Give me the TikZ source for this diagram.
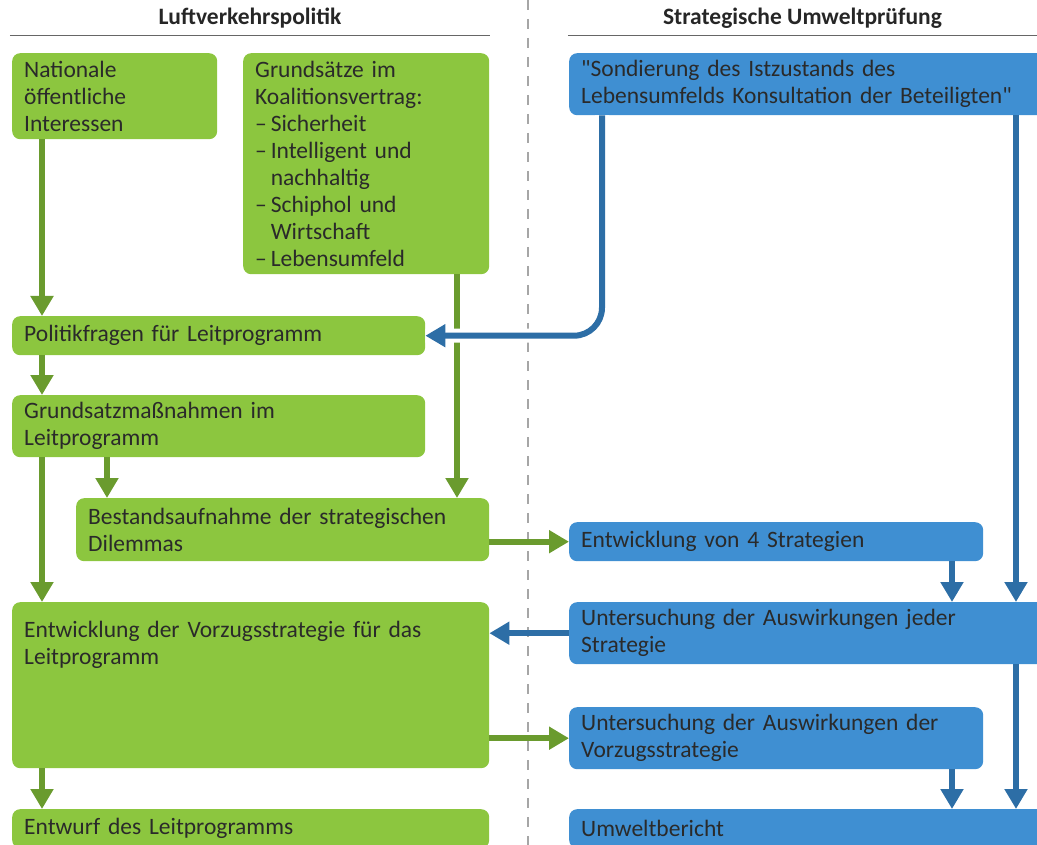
\documentclass[tikz,border=0pt]{standalone}
\usepackage{fontspec}
\setmainfont{Carlito}[Ligatures=TeXOff]
\usetikzlibrary{arrows.meta}

\definecolor{lvgreen}{HTML}{8CC63F}
\definecolor{lvgreendark}{HTML}{6A9B2E}
\definecolor{supblue}{HTML}{3F8FD2}
\definecolor{supbluedark}{HTML}{2D6EA6}
\definecolor{boxtext}{HTML}{2A2A2A}

\begin{document}
\begin{tikzpicture}[
        x=1pt, y=-1pt,
        >={Triangle[length=20pt 0 0, width=22pt 0 0]},
        font=\fontsize{23.5}{27}\selectfont,
        box/.style={rounded corners=8pt, anchor=north west, align=left, inner xsep=12pt, inner ysep=5pt, text=boxtext},
        gbox/.style={box, fill=lvgreen},
        bbox/.style={box, fill=supblue},
        size/.code 2 args={\pgfmathsetmacro\boxtw{#1-24}\tikzset{minimum width=#1pt, minimum height=#2pt, text width=\boxtw pt}},
        garr/.style={->, draw=lvgreendark, line width=6pt},
        barr/.style={->, draw=supbluedark, line width=6pt},
        head/.style={font=\fontsize{23.5}{26}\selectfont\bfseries, text=black!85, minimum height=34pt},
        rule/.style={draw=black!60, line width=1.2pt},
        divider/.style={draw=black!35, line width=1.2pt, dash pattern=on 10pt off 9pt}
      ]
      \useasboundingbox (0,0) rectangle (1037,845);
      \clip (0,0) rectangle (1037,845);

      % --- Column heads ---
      \node[head, minimum width=480pt] (lhead) at (250,18) {Luftverkehrspolitik};
      \node[head, minimum width=469pt] (rhead) at (802.5,18) {Strategische Umweltprüfung};
      \draw[rule] (lhead.south west) -- (lhead.south east);
      \draw[rule] (rhead.south west) -- (rhead.south east);
      \draw[divider] (528,0) -- (528,845);

      % --- Nodes: Luftverkehrspolitik ---
      \node[gbox, size={205}{86}] (nat) at (12,53) {Nationale\\öffentliche\\Interessen};
      \node[gbox, size={246}{221}] (grund) at (243,53) {Grundsätze im
        \\Koalitionsvertrag:
        \\–\,Sicherheit
        \\–\,Intelligent und
        \\\phantom{–\,}nachhaltig
        \\–\,Schiphol und
        \\\phantom{–\,}Wirtschaft
        \\–\,Lebensumfeld};
      \node[gbox, size={413}{39}] (pol) at (12,316) {Politikfragen für Leitprogramm};
      \node[gbox, size={413}{62}] (gmass) at (12,395) {Grundsatzmaßnahmen im\\Leitprogramm};
      \node[gbox, size={413}{63}] (bestand) at (76,498) {Bestandsaufnahme der strategischen\\Dilemmas};
      \node[gbox, size={477}{166}, text depth=112pt] (vorz) at (12,602) {Entwicklung der Vorzugsstrategie für das\\Leitprogramm};
      \node[gbox, size={477}{39}] (entwurf) at (12,809) {Entwurf des Leitprogramms};

      % --- Nodes: Strategische Umweltpruefung ---
      \node[bbox, size={480}{62}] (sond) at (569,53) {"Sondierung des Istzustands des\\Lebensumfelds Konsultation der Beteiligten"};
      \node[bbox, size={414}{39}] (strat4) at (569,522) {Entwicklung von 4 Strategien};
      \node[bbox, size={480}{62}] (ujede) at (569,602) {Untersuchung der Auswirkungen jeder\\Strategie};
      \node[bbox, size={414}{62}] (uvorz) at (569,707) {Untersuchung der Auswirkungen der\\Vorzugsstrategie};
      \node[bbox, size={480}{39}] (umwelt) at (569,809) {Umweltbericht};

      % --- Arrows ---
      \draw[garr] ([xshift=30pt]nat.south west) -- ([xshift=30pt]pol.north west);
      \draw[garr] ([xshift=214pt]grund.south west) -- ([xshift=381pt]bestand.north west);
      \draw[garr] ([xshift=30pt]pol.south west) -- ([xshift=30pt]gmass.north west);
      \draw[garr] ([xshift=30pt]gmass.south west) -- ([xshift=30pt]vorz.north west);
      \draw[garr] ([xshift=95pt]gmass.south west) -- ([xshift=31pt]bestand.north west);
      \draw[garr] (bestand.east |- strat4.west) -- (strat4.west);
      \draw[garr] (uvorz.west -| vorz.east) -- (uvorz.west);
      \draw[garr] ([xshift=30pt]vorz.south west) -- ([xshift=30pt]entwurf.north west);

      \draw[white, line width=14pt, rounded corners=28pt] ([xshift=33pt]sond.south west) |- (pol.east);
      \draw[barr, rounded corners=28pt] ([xshift=33pt]sond.south west) |- (pol.east);
      \draw[barr] ([xshift=447pt]sond.south west) -- ([xshift=447pt]ujede.north west);
      \draw[barr] ([xshift=383pt]strat4.south west) -- ([xshift=383pt]ujede.north west);
      \draw[barr] (ujede.west) -- (ujede.west -| vorz.east);
      \draw[barr] ([xshift=383pt]uvorz.south west) -- ([xshift=383pt]umwelt.north west);
      \draw[barr] ([xshift=447pt]ujede.south west) -- ([xshift=447pt]umwelt.north west);

    \end{tikzpicture}
\end{document}
